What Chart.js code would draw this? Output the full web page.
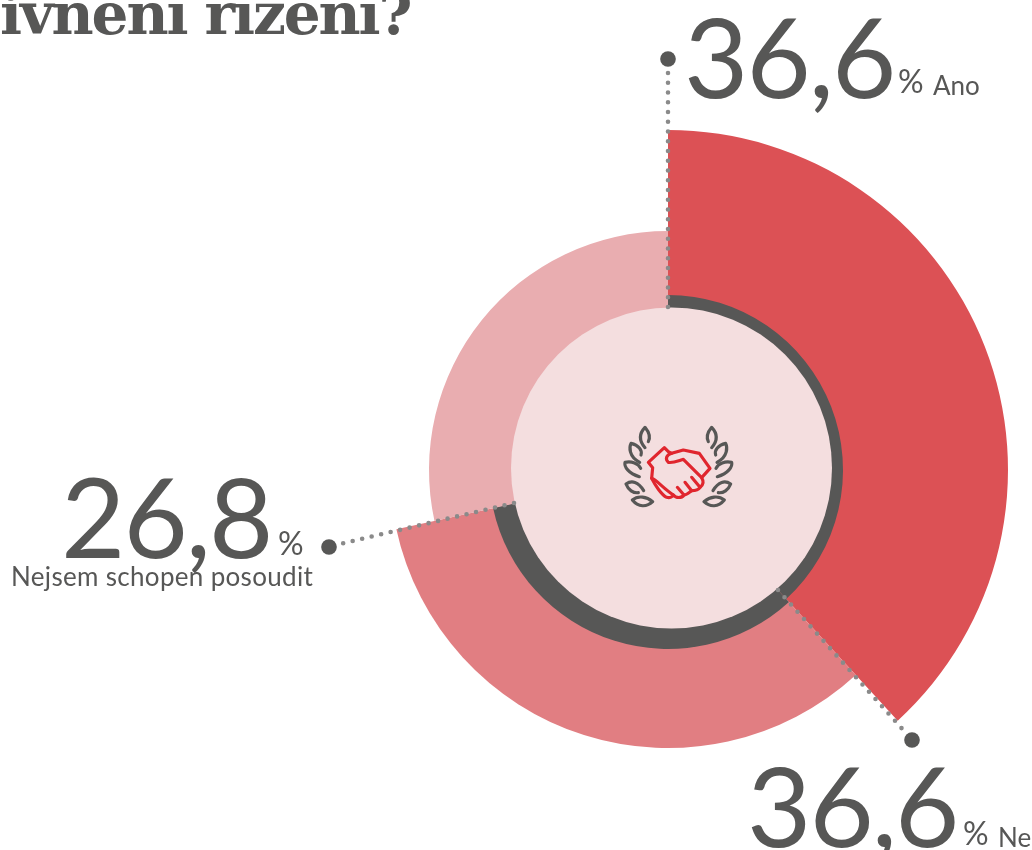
<!DOCTYPE html>
<html lang="cs">
<head>
<meta charset="utf-8">
<title>Graf</title>
<script src="https://cdn.jsdelivr.net/npm/chart.js@4"></script>
<style>
html,body{margin:0;padding:0;background:#fff;width:1032px;height:850px;overflow:hidden}
#wrap{position:relative;width:1032px;height:850px;overflow:hidden}
canvas{position:absolute;left:0;top:0}
.t{position:absolute;white-space:nowrap;color:#575756;font-family:Lato,sans-serif;line-height:1}
#title{font-family:"DejaVu Serif",serif;font-weight:700;font-size:58px;left:0;top:-15px;letter-spacing:-2.1px}
svg{position:absolute;left:600px;top:400px}
</style>
</head>
<body>
<div id="wrap">
<canvas id="c" width="1032" height="850"></canvas>
<svg width="140" height="130" viewBox="0 0 420 390" fill="none" stroke-linecap="round" stroke-linejoin="round">
<g stroke="#575756" stroke-width="9.5">
<g id="lf">
<path d="M135,143C115,120 118,100 135,82C150,100 150,115 145,125"/>
<path d="M119,187C85,170 88,140 93,130C115,135 128,150 123,165"/>
<path d="M118,230C85,220 72,200 75,187C95,183 115,190 122,205"/>
<path d="M131,272C115,245 95,240 78,252C85,270 100,280 115,278"/>
<path d="M97,300C115,285 140,290 158,305C140,322 115,322 97,300Z"/>
</g>
<use href="#lf" transform="matrix(-1 0 0 1 470 0)"/>
</g>
<g stroke="#e0262e" stroke-width="9.5">
<path d="M193,143L145,187L158,203L155,235C165,255 185,285 200,292C210,295 218,290 220,285C228,295 245,295 252,285C262,285 270,275 275,272C285,272 295,270 300,262C310,255 312,245 305,233L330,205L298,160L250,150L215,160L205,155Z"/>
<path d="M215,160C198,165 195,178 205,187C220,190 240,180 250,178L305,233"/>
<path d="M155,235C170,240 190,265 220,285M232,262L252,285M255,247L275,272M275,232L300,262"/>
</g>
</svg>
<div class="t" id="title">ivnění řízení?</div>
<div id="labels"></div>
</div>
<script>
const categories = ['Ano', 'Ne', 'Nejsem schopen posoudit'];
const shareLabels = ['36,6', '36,6', '26,8'];
const sliceAngles = [137.5, 120.2, 102.3];
const outerRadii = [340, 278, 239];
const ringRadii = [175, 179, 0];
const discRadius = 160.5;
const sliceColors = ['#DC5155', '#E17E82', '#E9ADB0'];

const leaderPlugin = {
  id: 'leaders',
  afterDatasetsDraw(chart) {
    const r = chart.scales.r, ctx = chart.ctx;
    const cx = r.xCenter, cy = r.yCenter;
    const d = v => r.getDistanceFromCenterForValue(v);
    ctx.save();
    ctx.fillStyle = '#F4DEDF';
    ctx.beginPath();
    ctx.arc(cx + 3.5, cy - 2, d(discRadius), 0, Math.PI * 2);
    ctx.fill();
    const lines = [[[668,307],[668,70],[668,59]], [[514,503],[340,544],[329,547]], [[778,590],[905,732],[912,740]]];
    lines.forEach(l => {
      ctx.strokeStyle = '#8A8A8A';
      ctx.lineWidth = 4.6;
      ctx.lineCap = 'round';
      ctx.setLineDash([0, 9.75]);
      ctx.beginPath();
      ctx.moveTo(l[0][0], l[0][1]);
      ctx.lineTo(l[1][0], l[1][1]);
      ctx.stroke();
      ctx.setLineDash([]);
      ctx.fillStyle = '#575756';
      ctx.beginPath();
      ctx.arc(l[2][0], l[2][1], 7.8, 0, Math.PI * 2);
      ctx.fill();
    });
    ctx.restore();
  }
};

new Chart(document.getElementById('c'), {
  type: 'polarArea',
  data: {
    labels: categories,
    datasets: [
      { data: ringRadii, angle: sliceAngles, backgroundColor: '#575756', borderWidth: 0 },
      { data: outerRadii, angle: sliceAngles, backgroundColor: sliceColors, borderWidth: 0 }
    ]
  },
  options: {
    responsive: false,
    animation: false,
    layout: { padding: { left: 328, right: 24, top: 130, bottom: 40 } },
    plugins: { legend: { display: false }, tooltip: { enabled: false } },
    scales: { r: { display: false, min: 0, max: 340, startAngle: 0 } }
  },
  plugins: [leaderPlugin]
});

const textSpots = [
  { big: [684, 0], pct: [898, 65], name: [933, 72], gap: 0 },
  { big: [747, 749], pct: [963, 817], name: [998, 824], gap: 0 },
  { big: [61, 460], pct: [278, 527], name: [11, 563], gap: 0.32 }
];
const holder = document.getElementById('labels');
function put(text, pos, size, spacing) {
  const e = document.createElement('div');
  e.className = 't';
  e.textContent = text;
  e.style.left = pos[0] + 'px';
  e.style.top = pos[1] + 'px';
  e.style.fontSize = size + 'px';
  e.style.letterSpacing = spacing + 'px';
  holder.appendChild(e);
}
categories.forEach((c, i) => {
  put(shareLabels[i], textSpots[i].big, 111, -2);
  put('%', textSpots[i].pct, 32, 0);
  put(c, textSpots[i].name, 26, textSpots[i].gap);
});
</script>
</body>
</html>
